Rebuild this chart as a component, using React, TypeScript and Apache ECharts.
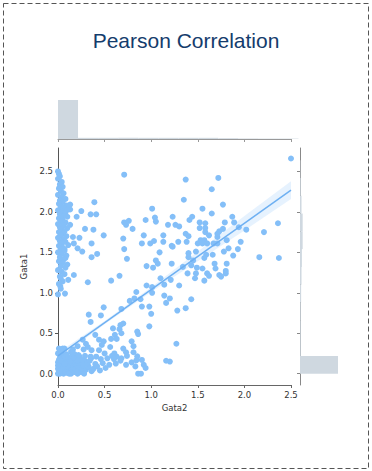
import React, { useEffect, useRef } from "react";
import * as echarts from "echarts";

const titleText = "Pearson Correlation";
const xName = "Gata2";
const yName = "Gata1";
const tickValues = [0, 0.5, 1.0, 1.5, 2.0, 2.5];

// [Gata2, Gata1] pairs
const scatterPoints: [number, number][] = [
  // upper middle
  [0.71, 2.46], [0.39, 2.12], [0.25, 2.01], [0.35, 1.97], [0.41, 1.97], [0.2, 1.94], [0.13, 2.09], [0.13, 2.03],
  [0.13, 1.84], [0.29, 1.79], [0.38, 1.78], [0.49, 1.71], [0.16, 1.69], [0.23, 1.68], [0.17, 1.61], [0.36, 1.61],
  [0.21, 1.55], [0.26, 1.51], [0.42, 1.48], [0.36, 1.44], [0.07, 1.54], [0.08, 1.43], [0.7, 1.67], [0.71, 1.54],
  [0.74, 1.42], [0.71, 1.87], [0.73, 1.84], [0.76, 1.89], [0.8, 1.79], [0.94, 1.9], [1.01, 2.04], [1.04, 1.93],
  [1.05, 1.88], [0.92, 1.71], [0.9, 1.61], [0.99, 1.61], [1.03, 1.64], [1.13, 1.71], [1.13, 1.63], [1.18, 1.84],
  [1.23, 1.94], [1.22, 1.58], [1.09, 1.5], [0.95, 1.33], [1.02, 1.31], [1.05, 1.4], [1.07, 1.36], [1.22, 1.36],
  [0.1, 1.35],
  // upper right
  [2.5, 2.66], [1.37, 2.4], [1.72, 2.42], [1.65, 2.28], [1.35, 2.15], [1.77, 2.09], [1.55, 2.04], [1.65, 1.98],
  [1.44, 1.94], [1.41, 1.9], [1.26, 1.84], [1.3, 1.82], [1.52, 1.87], [1.58, 1.86], [1.52, 1.8], [1.58, 1.8],
  [1.58, 1.75], [1.79, 1.87], [1.87, 1.94], [1.89, 1.87], [1.94, 1.81], [2.02, 1.78], [2.21, 1.75], [2.36, 1.86],
  [1.37, 1.73], [1.4, 1.7], [1.73, 1.76], [1.77, 1.79], [1.71, 1.73], [1.62, 1.71], [1.71, 1.69], [1.29, 1.63],
  [1.38, 1.63], [1.53, 1.65], [1.57, 1.65], [1.5, 1.61], [1.55, 1.61], [1.6, 1.61], [1.67, 1.61], [1.71, 1.61],
  [1.81, 1.65], [1.96, 1.63], [1.23, 1.57], [1.83, 1.55], [1.93, 1.54], [1.48, 1.51], [1.4, 1.49], [1.59, 1.47],
  [1.78, 1.51], [1.66, 1.47], [1.4, 1.44], [1.45, 1.4], [1.57, 1.43], [1.88, 1.46], [2.16, 1.44], [2.37, 1.43],
  [1.34, 1.32], [1.43, 1.34], [1.49, 1.31], [1.68, 1.36], [1.81, 1.36], [1.55, 1.3], [1.69, 1.3],
  // lower right
  [1.3, 1.09], [1.2, 0.93], [1.43, 0.92], [1.28, 0.78], [1.37, 0.81], [1.27, 0.37], [1.2, 0.15], [1.39, 1.24],
  [1.47, 1.18], [1.48, 1.24], [1.57, 1.15], [1.6, 1.24], [1.62, 1.21], [1.73, 1.22], [1.75, 1.2], [1.8, 1.27],
  [1.8, 1.24],
  // lower middle
  [0.11, 1.16], [0.17, 1.22], [0.32, 1.13], [0.57, 1.15], [0.66, 1.21], [0.025, 1.08], [0.075, 0.99], [0.03, 1.18],
  [0.95, 1.09], [1.01, 1.07], [1.01, 1.0], [1.14, 1.1], [1.1, 1.18], [1.21, 1.16], [0.84, 1.01], [0.82, 0.93],
  [0.77, 0.9], [0.885, 0.92], [1.14, 0.965], [1.16, 0.875], [0.49, 0.82], [0.68, 0.8], [0.9, 0.83], [0.98, 0.83],
  [1.0, 0.74], [0.33, 0.73], [0.46, 0.72], [0.35, 0.64], [0.7, 0.62], [0.67, 0.6], [0.98, 0.585], [0.59, 0.56],
  [0.66, 0.55], [0.85, 0.52], [0.86, 0.49], [0.68, 0.5], [0.4, 0.48], [0.61, 0.48], [0.57, 0.43], [0.63, 0.43],
  [0.44, 0.42], [0.49, 0.4], [0.47, 0.355], [0.79, 0.4], [0.81, 0.34], [0.7, 0.31], [0.56, 0.33], [0.3, 0.37],
  [0.32, 0.33], [0.21, 0.34], [0.07, 0.31], [0.14, 0.27], [0.275, 0.3], [0.36, 0.29], [0.44, 0.29], [0.41, 0.21],
  [0.605, 0.25], [0.73, 0.265], [0.81, 0.265], [0.85, 0.215], [0.63, 0.21], [0.58, 0.22], [0.68, 0.19], [0.74, 0.22],
  [0.6, 0.18], [0.67, 0.16], [0.84, 0.165], [0.9, 0.17], [0.46, 0.18], [0.355, 0.19], [0.29, 0.16], [0.23, 0.21],
  [0.18, 0.24], [0.4, 0.12], [0.32, 0.11], [0.62, 0.125], [0.73, 0.11], [0.79, 0.14], [0.83, 0.09], [0.92, 0.11],
  [0.94, 0.07], [1.16, 0.16], [0.86, 0.0], [0.89, 0.0], [0.28, 0.03], [0.175, 0.07], [0.265, 0.42], [0.16, 0.3],
  // left column
  [0.0, 2.5], [0.01, 2.47], [0.02, 2.44], [0.0, 2.41], [0.04, 2.37], [0.02, 2.34], [0.05, 2.31], [0.01, 2.29],
  [0.03, 2.26], [0.06, 2.23], [0.0, 2.21], [0.04, 2.18], [0.08, 2.16], [0.02, 2.14], [0.05, 2.12], [0.01, 2.1],
  [0.09, 2.08], [0.03, 2.06], [0.06, 2.05], [0.11, 2.03], [0.0, 2.02], [0.04, 2.0], [0.08, 1.99], [0.02, 1.97],
  [0.06, 1.95], [0.1, 1.94], [0.01, 1.92], [0.05, 1.9], [0.03, 1.88], [0.08, 1.87], [0.0, 1.85], [0.06, 1.83],
  [0.02, 1.81], [0.1, 1.8], [0.04, 1.78], [0.07, 1.76], [0.01, 1.75], [0.05, 1.73], [0.03, 1.71], [0.09, 1.7],
  [0.0, 1.68], [0.06, 1.66], [0.02, 1.64], [0.08, 1.63], [0.04, 1.61], [0.11, 1.59], [0.01, 1.58], [0.05, 1.56],
  [0.03, 1.54], [0.07, 1.52], [0.0, 1.5], [0.04, 1.48], [0.09, 1.46], [0.02, 1.44], [0.06, 1.41], [0.01, 1.39],
  [0.05, 1.37], [0.03, 1.33], [0.08, 1.31], [0.0, 1.28], [0.04, 1.26], [0.07, 1.23], [0.02, 1.2], [0.05, 1.14],
  [0.01, 1.11], [0.03, 1.05], [0.0, 0.98],
  // origin cluster
  [0.0, 0.0], [0.01, 0.02], [0.02, 0.0], [0.03, 0.04], [0.0, 0.06], [0.04, 0.01], [0.05, 0.03], [0.06, 0.0],
  [0.01, 0.09], [0.02, 0.12], [0.03, 0.07], [0.07, 0.05], [0.08, 0.02], [0.0, 0.14], [0.04, 0.1], [0.09, 0.08],
  [0.1, 0.01], [0.05, 0.15], [0.11, 0.04], [0.12, 0.11], [0.06, 0.18], [0.02, 0.2], [0.13, 0.07], [0.14, 0.0],
  [0.08, 0.13], [0.15, 0.03], [0.1, 0.17], [0.16, 0.09], [0.03, 0.23], [0.17, 0.14], [0.18, 0.02], [0.07, 0.22],
  [0.19, 0.06], [0.2, 0.11], [0.11, 0.2], [0.21, 0.0], [0.22, 0.04], [0.14, 0.17], [0.23, 0.08], [0.24, 0.13],
  [0.15, 0.22], [0.25, 0.02], [0.26, 0.06], [0.19, 0.18], [0.27, 0.1], [0.28, 0.0], [0.0, 0.25], [0.01, 0.17],
  [0.04, 0.27], [0.09, 0.24], [0.12, 0.0], [0.06, 0.09], [0.03, 0.15], [0.08, 0.06], [0.13, 0.15], [0.17, 0.2],
  [0.1, 0.09], [0.01, 0.05], [0.05, 0.07], [0.0, 0.1], [0.02, 0.03], [0.07, 0.12], [0.16, 0.25], [0.21, 0.16],
  [0.3, 0.05], [0.33, 0.08], [0.36, 0.03], [0.31, 0.13], [0.34, 0.16], [0.38, 0.06], [0.22, 0.23], [0.26, 0.17],
  [0.29, 0.22], [0.35, 0.21], [0.42, 0.09], [0.45, 0.04], [0.48, 0.13], [0.51, 0.07], [0.53, 0.19], [0.5, 0.25],
  [0.55, 0.11], [0.01, 0.31], [0.05, 0.31],
];

// regression line and confidence band
const regX = [0, 2.5];
const regY = [0.22, 2.27];
const bandX = [0, 0.5, 1.0, 1.5, 2.0, 2.5];
const bandLow = [0.18, 0.61, 1.01, 1.39, 1.77, 2.16];
const bandHigh = [0.26, 0.65, 1.07, 1.51, 1.95, 2.38];

// marginal histograms: bin start, bin end, relative count
const topBinStart = [0, 0.215, 0.43, 0.645, 0.86, 1.075, 1.29, 1.505, 1.72, 1.935, 2.15, 2.365];
const topBinEnd = [0.215, 0.43, 0.645, 0.86, 1.075, 1.29, 1.505, 1.72, 1.935, 2.15, 2.365, 2.58];
const topCounts = [100, 3, 3, 3, 3, 3, 3, 3, 2, 1, 1, 1];
const rightBinStart = [0, 0.22, 0.44, 0.66, 0.88, 1.1, 1.32, 1.54, 1.76, 1.98, 2.2, 2.42];
const rightBinEnd = [0.22, 0.44, 0.66, 0.88, 1.1, 1.32, 1.54, 1.76, 1.98, 2.2, 2.42, 2.64];
const rightCounts = [100, 2, 2, 2, 3, 4, 5, 7, 7, 4, 2, 1];

const Y_MIN = -0.14;
const Y_MAX = 2.79;

export default function App() {
  const ref = useRef<HTMLDivElement>(null);
  useEffect(() => {
    if (!ref.current) return;
    const chart = echarts.init(ref.current, null, { renderer: "svg" });
    const fmt = (v: number) => Number(v).toFixed(1);
    const lbl = { fontSize: 8.5, color: "#333", fontFamily: "DejaVu Sans" };
    const topData = topBinStart.map((s, i) => [s, topBinEnd[i], topCounts[i]]);
    const rightData = rightBinStart.map((s, i) => [s, rightBinEnd[i], rightCounts[i]]);
    const bandData = bandX.map((x, i) => [x, bandLow[i], bandHigh[i]]);
    chart.setOption({
      animation: false,
      backgroundColor: "#fff",
      title: {
        text: titleText,
        left: "center",
        top: 25,
        textStyle: { fontSize: 21, fontWeight: "normal", color: "#143c6c", fontFamily: "Liberation Sans" },
      },
      graphic: [
        {
          type: "rect",
          shape: { x: 3.5, y: 3.5, width: 365, height: 465 },
          style: { fill: "none", stroke: "#555", lineWidth: 1, lineDash: [5, 3] },
          silent: true,
        },
      ],
      grid: [
        { left: 58, top: 148, width: 233, height: 237 },
        { left: 58, top: 100, width: 233, height: 39 },
        { left: 300, top: 148, width: 38, height: 237 },
      ],
      xAxis: [
        {
          gridIndex: 0,
          type: "value",
          min: 0,
          max: 2.5,
          name: xName,
          nameLocation: "middle",
          nameGap: 13,
          nameTextStyle: lbl,
          axisLine: { onZero: false, lineStyle: { color: "#666" } },
          axisTick: { show: true, length: 3, customValues: tickValues, lineStyle: { color: "#666" } },
          axisLabel: { ...lbl, margin: 5, customValues: tickValues, formatter: fmt },
          splitLine: { show: false },
        },
        {
          gridIndex: 1,
          type: "value",
          min: 0,
          max: 2.5,
          axisLine: { onZero: false, lineStyle: { color: "#999" } },
          axisTick: { show: true, length: 3, customValues: tickValues, lineStyle: { color: "#999" } },
          axisLabel: { show: false },
          splitLine: { show: false },
        },
        {
          gridIndex: 2,
          type: "value",
          min: 0,
          max: 100,
          show: false,
        },
      ],
      yAxis: [
        {
          gridIndex: 0,
          type: "value",
          min: Y_MIN,
          max: Y_MAX,
          name: yName,
          nameLocation: "middle",
          nameGap: 17,
          nameTextStyle: lbl,
          axisLine: { show: true, onZero: false, lineStyle: { color: "#555" } },
          axisTick: { show: true, length: 3, customValues: tickValues, lineStyle: { color: "#555" } },
          axisLabel: { ...lbl, margin: 5, customValues: tickValues, formatter: fmt },
          splitLine: { show: false },
        },
        {
          gridIndex: 1,
          type: "value",
          min: 0,
          max: 100,
          show: false,
        },
        {
          gridIndex: 2,
          type: "value",
          min: Y_MIN,
          max: Y_MAX,
          position: "left",
          axisLine: { show: true, onZero: false, lineStyle: { color: "#888" } },
          axisTick: { show: true, length: 3, customValues: tickValues, lineStyle: { color: "#888" } },
          axisLabel: { show: false },
          splitLine: { show: false },
        },
      ],
      series: [
        {
          type: "scatter",
          xAxisIndex: 0,
          yAxisIndex: 0,
          data: scatterPoints,
          symbolSize: 6,
          itemStyle: { color: "#84bff8", opacity: 1 },
        },
        {
          type: "custom",
          xAxisIndex: 0,
          yAxisIndex: 0,
          data: bandData,
          encode: { x: 0, y: [1, 2] },
          z: 3,
          renderItem: (params: any, api: any) => {
            if (params.dataIndex !== 0) return { type: "group", children: [] };
            const upper = bandData.map((d) => api.coord([d[0], d[2]]));
            const lower = bandData.map((d) => api.coord([d[0], d[1]])).reverse();
            return {
              type: "polygon",
              shape: { points: upper.concat(lower) },
              style: { fill: "rgba(130,190,248,0.2)" },
            };
          },
        },
        {
          type: "line",
          xAxisIndex: 0,
          yAxisIndex: 0,
          data: regX.map((x, i) => [x, regY[i]]),
          showSymbol: false,
          z: 4,
          lineStyle: { color: "#6eb0f2", width: 1.5 },
        },
        {
          type: "custom",
          xAxisIndex: 1,
          yAxisIndex: 1,
          data: topData,
          encode: { x: [0, 1], y: 2 },
          renderItem: (params: any, api: any) => {
            const p0 = api.coord([api.value(0), 0]);
            const p1 = api.coord([api.value(1), api.value(2)]);
            return {
              type: "rect",
              shape: { x: p0[0], y: p1[1], width: p1[0] - p0[0], height: p0[1] - p1[1] },
              style: { fill: "#cfd8e0" },
            };
          },
        },
        {
          type: "custom",
          xAxisIndex: 2,
          yAxisIndex: 2,
          data: rightData,
          encode: { y: [0, 1], x: 2 },
          renderItem: (params: any, api: any) => {
            const p0 = api.coord([0, api.value(0)]);
            const p1 = api.coord([api.value(2), api.value(1)]);
            return {
              type: "rect",
              shape: { x: p0[0], y: p1[1], width: p1[0] - p0[0], height: p0[1] - p1[1] },
              style: { fill: "#cfd8e0" },
            };
          },
        },
      ],
    });
    return () => chart.dispose();
  }, []);
  return (
    <div
      ref={ref}
      style={{ position: "fixed", left: 0, top: 0, width: 372, height: 471, background: "#fff" }}
    />
  );
}
